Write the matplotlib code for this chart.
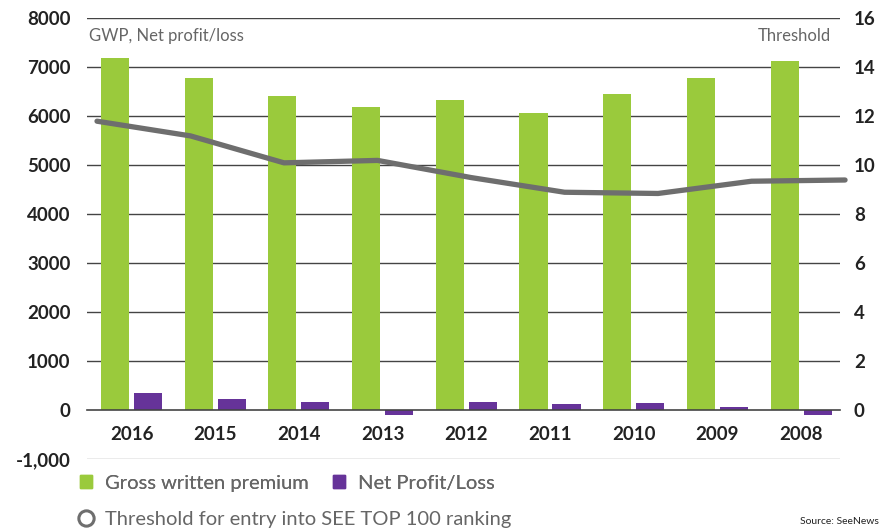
import numpy as np
import matplotlib.pyplot as plt
from matplotlib.patches import Patch
from matplotlib.lines import Line2D

years = ['2016', '2015', '2014', '2013', '2012', '2011', '2010', '2009', '2008']
gwp = [7200, 6780, 6410, 6200, 6330, 6060, 6450, 6780, 7120]
net_profit = [350, 225, 165, -100, 165, 125, 145, 60, -105]
threshold = [11.8, 11.2, 10.1, 10.2, 9.5, 8.9, 8.85, 9.35, 9.4]

GREEN = '#9aca3c'
PURPLE = '#663399'
LINE = '#6e6e6e'
TXT = '#222222'
GREY = '#666666'

plt.rcParams['font.family'] = ['Lato', 'DejaVu Sans']

fig = plt.figure(figsize=(8.82, 5.32), dpi=100)
pos = [87 / 882, 1 - 459.3 / 532, 753 / 882, (459.3 - 18.3) / 532]
ax = fig.add_axes(pos)

x = np.arange(len(years))
w = 0.335
ax.bar(x - 0.197, gwp, w, color=GREEN, zorder=3)
ax.bar(x + 0.197, net_profit, w, color=PURPLE, zorder=3)

ax.set_xlim(-0.532, 8.465)
ax.set_ylim(-1000, 8000)
ax.set_yticks(range(-1000, 8001, 1000))
ax.set_yticklabels(['-1,000'] + [str(v) for v in range(0, 8001, 1000)])
ax.set_xticks(x)
ax.set_xticklabels(years)

for s in ['top', 'right', 'left']:
    ax.spines[s].set_visible(False)
ax.spines['bottom'].set_position(('data', 0))
ax.spines['bottom'].set_color('#444444')
ax.spines['bottom'].set_linewidth(1.2)
ax.spines['bottom'].set_zorder(4)
ax.tick_params(axis='both', length=0, labelsize=13.5, colors=TXT)
ax.tick_params(axis='x', pad=11)
ax.tick_params(axis='y', pad=12)
for lab in ax.get_xticklabels() + ax.get_yticklabels():
    lab.set_fontweight('bold')

for v in range(-1000, 8001, 1000):
    if v == 0:
        continue
    col = '#999999' if v == -1000 else '#444444'
    ax.axhline(v, color=col, lw=1.0, zorder=1)

ax.text(0.003, 0.978, 'GWP, Net profit/loss', transform=ax.transAxes,
        ha='left', va='top', fontsize=12, color=GREY)
ax.text(0.988, 0.978, 'Threshold', transform=ax.transAxes,
        ha='right', va='top', fontsize=12, color=GREY)

# threshold line on its own axes with right-hand scale
ax3 = fig.add_axes(pos, frameon=False)
ax3.plot(np.arange(len(threshold)), threshold, color=LINE, lw=3.8,
         solid_capstyle='round', clip_on=False, zorder=5)
ax3.set_xlim(-0.107, 7.946)
ax3.set_ylim(-2, 16)
ax3.set_xticks([])
ax3.yaxis.tick_right()
ax3.set_yticks(range(0, 17, 2))
ax3.tick_params(axis='y', length=0, labelsize=13.5, colors=TXT, pad=10)
for lab in ax3.get_yticklabels():
    lab.set_fontweight('bold')

leg1 = fig.legend(handles=[Patch(color=GREEN, label='Gross written premium'),
                           Patch(color=PURPLE, label='Net Profit/Loss')],
                  loc='center left', bbox_to_anchor=(80 / 882, 1 - 483 / 532), ncol=2,
                  frameon=False, fontsize=14.5, handlelength=0.6, handleheight=0.6,
                  handletextpad=0.65, columnspacing=1.2, labelcolor=GREY,
                  borderpad=0, borderaxespad=0)
leg2 = fig.legend(handles=[Line2D([], [], marker='o', ls='none', mfc='white',
                                  mec=LINE, mew=2.2, ms=11,
                                  label='Threshold for entry into SEE TOP 100 ranking')],
                  loc='center left', bbox_to_anchor=(79 / 882, 1 - 519 / 532),
                  frameon=False, fontsize=14.5, handlelength=0.65,
                  handletextpad=0.65, labelcolor=GREY, borderpad=0, borderaxespad=0)
fig.add_artist(leg1)

fig.text(879 / 882, 1 - 522 / 532, 'Source: SeeNews', fontsize=7.5, color=TXT,
         ha='right', va='center')

fig.savefig('out.png', dpi=100)
